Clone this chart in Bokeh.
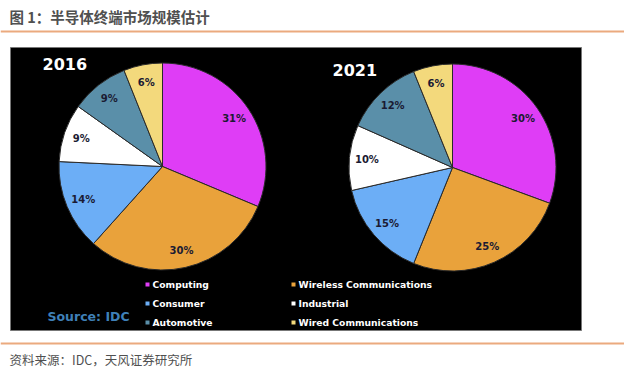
import numpy as np
from bokeh.plotting import figure
from bokeh.models import Range1d, ColumnDataSource
from bokeh.core.properties import value
from bokeh.embed import file_html
from bokeh.resources import INLINE

# ---- data ----
categories = ["Computing", "Wireless Communications", "Consumer", "Industrial",
              "Automotive", "Wired Communications"]
colors = ["#DF3DF6", "#E9A23B", "#6CAEF6", "#FFFFFF", "#5A8FA9", "#F3D97C"]
years = ["2016", "2021"]
share_2016 = [31, 30, 14, 9, 9, 6]
share_2021 = [30, 25, 15, 10, 12, 6]
title_text = "图 1：半导体终端市场规模估计"
footer_text = "资料来源：IDC，天风证券研究所"
source_text = "Source: IDC"

W, H = 624, 370
p = figure(width=W, height=H, output_backend="svg", toolbar_location=None,
           x_range=Range1d(0, W), y_range=Range1d(386 - H, 386),
           min_border=0, background_fill_color="white", border_fill_color="white")
p.outline_line_color = None
p.axis.visible = False
p.grid.visible = False

def Y(ry):  # reference pixel row -> data y
    return 386 - ry

CJK = value("Noto Sans CJK SC")
LAT = value("DejaVu Sans")

# header / footer
p.text(x=[9], y=[Y(16)], text=[title_text], text_font=CJK, text_font_size="14.5px",
       text_font_style="bold", text_color="#505050", text_baseline="middle")
p.segment(x0=[0], x1=[640], y0=[Y(31)], y1=[Y(31)], line_color="#EBAA7E", line_width=2)
p.segment(x0=[0], x1=[640], y0=[Y(343)], y1=[Y(343)], line_color="#EBAA7E", line_width=2)
p.text(x=[9], y=[Y(359)], text=[footer_text], text_font=CJK, text_font_size="12.5px",
       text_color="#505050", text_baseline="middle")

# black panel
p.quad(left=[10], right=[581], top=[Y(47)], bottom=[Y(330)], fill_color="black",
       line_color="#777777", line_width=1)

centers = [(162, 166), (452, 167)]
radius = 103.5
year_pos = [(42, 63), (332, 69)]
for shares, (cx, cy), yr, (yx, yy) in zip([share_2016, share_2021], centers, years, year_pos):
    s = np.array(shares, dtype=float)
    frac = s / s.sum()
    cum_end = np.cumsum(frac)
    cum_start = cum_end - frac
    start = np.pi / 2 - 2 * np.pi * cum_end
    end = np.pi / 2 - 2 * np.pi * cum_start
    src = ColumnDataSource(dict(start=start, end=end, color=colors))
    p.wedge(x=cx, y=Y(cy), radius=radius, start_angle="start", end_angle="end",
            fill_color="color", line_color="#2a2a2a", line_width=1, source=src)
    mid = 2 * np.pi * (cum_start + cum_end) / 2
    lr = 86
    lx = cx + lr * np.sin(mid)
    ly = Y(cy) + lr * np.cos(mid)
    p.text(x=lx, y=ly, text=[f"{v}%" for v in shares], text_font=LAT,
           text_font_size="10px", text_font_style="bold", text_color="#1b1b33",
           text_align="center", text_baseline="middle")
    p.text(x=[yx], y=[Y(yy)], text=[yr], text_font=LAT, text_font_size="16px",
           text_font_style="bold", text_color="white", text_baseline="middle")

# legend
leg_x = [147, 293, 147, 293, 147, 293]
leg_y = [284, 284, 303, 303, 322, 322]
p.scatter(x=leg_x, y=[Y(v) for v in leg_y], marker="square", size=4,
          fill_color=colors, line_color=None)
p.text(x=[v + 5 for v in leg_x], y=[Y(v) for v in leg_y], text=categories,
       text_font=LAT, text_font_size="9.2px", text_font_style="bold",
       text_color="white", text_baseline="middle")
p.text(x=[47], y=[Y(316)], text=[source_text], text_font=LAT, text_font_size="12.5px",
       text_font_style="bold", text_color="#3F80B8", text_baseline="middle")

open("out.html", "w").write(file_html(p, INLINE))
